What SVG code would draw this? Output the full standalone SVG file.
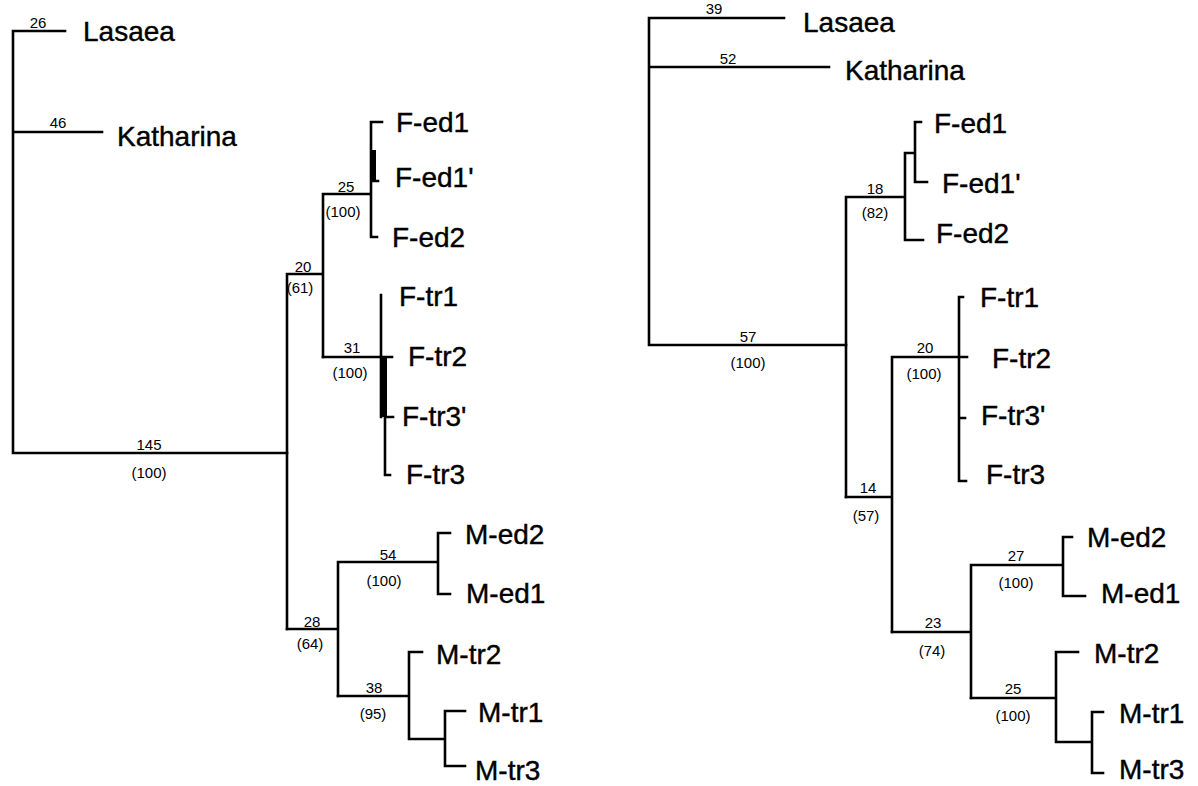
<svg xmlns="http://www.w3.org/2000/svg" width="1198" height="786" viewBox="0 0 1198 786">
<style>
.br{stroke:#000;stroke-width:2.6;fill:none;stroke-linecap:square}
.tx{font-family:"Liberation Sans",Arial,sans-serif;font-size:28px;fill:#000;stroke:#000;stroke-width:0.4}
.nm{font-family:"Liberation Sans",Arial,sans-serif;font-size:15px;fill:#000;text-anchor:middle}
</style>
<rect width="1198" height="786" fill="#fff"/>
<g id="connectors">
<g id="left-branches">
<path class="br" d="M13,31V453M13,31H65M13,132H102M13,453H287"/>
<path class="br" d="M287,274V629M287,274H323M323,194V357M323,194H370"/>
<path class="br" d="M371,122V237M371,122H382M371,181H378M371,237H377"/>
<rect x="370" y="150" width="6" height="31" fill="#000"/>
<path class="br" d="M323,357H392M381,295V417M385,417V475M385,417H393M385,475H390"/>
<rect x="380" y="357" width="7" height="60" fill="#000"/>
<path class="br" d="M287,629H338M338,562V696M338,562H438M438,533V594M438,533H450M438,594H450"/>
<path class="br" d="M338,696H409M409,652V739M409,652H422M409,739H445M445,711V766M445,711H465M445,766H465"/>
</g>
<g id="right-branches">
<path class="br" d="M649,18V345M649,18H784M649,67H829M649,345H846"/>
<path class="br" d="M846,197V497M846,197H904M905,153V240M905,153H915M915,122V182M915,122H921M915,182H927M905,240H923"/>
<path class="br" d="M846,497H892M892,357V632M892,357H967M959,297V481M959,297H963M959,418H965M959,481H966"/>
<path class="br" d="M892,632H971M971,565V698M971,565H1063M1063,537V596M1063,537H1072M1063,596H1085"/>
<path class="br" d="M971,698H1056M1056,652V742M1056,652H1078M1056,742H1092M1092,712V773M1092,712H1103M1092,773H1103"/>
</g>
</g>
<g id="left-labels">
<g id="L-Lasaea"><text class="tx" x="83" y="41">Lasaea</text><text class="nm" x="38" y="28">26</text></g>
<g id="L-Katharina"><text class="tx" x="117" y="146">Katharina</text><text class="nm" x="58" y="128">46</text></g>
<g id="L-n145"><text class="nm" x="149" y="450">145</text><text class="nm" x="149" y="478">(100)</text></g>
<g id="L-n20"><text class="nm" x="303" y="272">20</text><text class="nm" x="300" y="293">(61)</text></g>
<g id="L-n25"><text class="nm" x="346" y="192">25</text><text class="nm" x="343" y="217">(100)</text></g>
<g id="L-n31"><text class="nm" x="352" y="353">31</text><text class="nm" x="350" y="378">(100)</text></g>
<g id="L-n28"><text class="nm" x="312" y="627">28</text><text class="nm" x="310" y="649">(64)</text></g>
<g id="L-n54"><text class="nm" x="388" y="560">54</text><text class="nm" x="384" y="586">(100)</text></g>
<g id="L-n38"><text class="nm" x="374" y="693">38</text><text class="nm" x="373" y="719">(95)</text></g>
<g id="L-Fed1"><text class="tx" x="396" y="132">F-ed1</text></g>
<g id="L-Fed1p"><text class="tx" x="395" y="187">F-ed1'</text></g>
<g id="L-Fed2"><text class="tx" x="392" y="247">F-ed2</text></g>
<g id="L-Ftr1"><text class="tx" x="399" y="306">F-tr1</text></g>
<g id="L-Ftr2"><text class="tx" x="408" y="366">F-tr2</text></g>
<g id="L-Ftr3p"><text class="tx" x="402" y="426">F-tr3'</text></g>
<g id="L-Ftr3"><text class="tx" x="406" y="484">F-tr3</text></g>
<g id="L-Med2"><text class="tx" x="465" y="544">M-ed2</text></g>
<g id="L-Med1"><text class="tx" x="466" y="603">M-ed1</text></g>
<g id="L-Mtr2"><text class="tx" x="436" y="664">M-tr2</text></g>
<g id="L-Mtr1"><text class="tx" x="478" y="722">M-tr1</text></g>
<g id="L-Mtr3"><text class="tx" x="475" y="780">M-tr3</text></g>
</g>
<g id="right-labels">
<g id="R-Lasaea"><text class="tx" x="803" y="32">Lasaea</text><text class="nm" x="714" y="14">39</text></g>
<g id="R-Katharina"><text class="tx" x="845" y="80">Katharina</text><text class="nm" x="728" y="64">52</text></g>
<g id="R-n57"><text class="nm" x="748" y="342">57</text><text class="nm" x="748" y="368">(100)</text></g>
<g id="R-n18"><text class="nm" x="875" y="194">18</text><text class="nm" x="875" y="218">(82)</text></g>
<g id="R-n20"><text class="nm" x="925" y="353">20</text><text class="nm" x="924" y="379">(100)</text></g>
<g id="R-n14"><text class="nm" x="868" y="493">14</text><text class="nm" x="866" y="521">(57)</text></g>
<g id="R-n27"><text class="nm" x="1016" y="561">27</text><text class="nm" x="1016" y="588">(100)</text></g>
<g id="R-n23"><text class="nm" x="933" y="628">23</text><text class="nm" x="932" y="656">(74)</text></g>
<g id="R-n25"><text class="nm" x="1013" y="694">25</text><text class="nm" x="1013" y="721">(100)</text></g>
<g id="R-Fed1"><text class="tx" x="934" y="133">F-ed1</text></g>
<g id="R-Fed1p"><text class="tx" x="942" y="193">F-ed1'</text></g>
<g id="R-Fed2"><text class="tx" x="936" y="243">F-ed2</text></g>
<g id="R-Ftr1"><text class="tx" x="980" y="307">F-tr1</text></g>
<g id="R-Ftr2"><text class="tx" x="992" y="368">F-tr2</text></g>
<g id="R-Ftr3p"><text class="tx" x="981" y="425">F-tr3'</text></g>
<g id="R-Ftr3"><text class="tx" x="986" y="484">F-tr3</text></g>
<g id="R-Med2"><text class="tx" x="1087" y="547">M-ed2</text></g>
<g id="R-Med1"><text class="tx" x="1101" y="603">M-ed1</text></g>
<g id="R-Mtr2"><text class="tx" x="1094" y="663">M-tr2</text></g>
<g id="R-Mtr1"><text class="tx" x="1119" y="723">M-tr1</text></g>
<g id="R-Mtr3"><text class="tx" x="1119" y="779">M-tr3</text></g>
</g>
</svg>
